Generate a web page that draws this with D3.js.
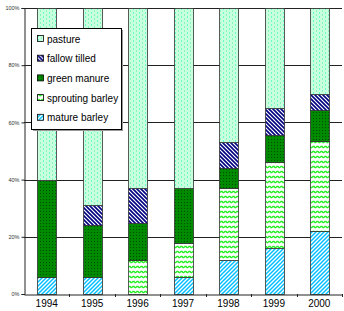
<!DOCTYPE html>
<html>
<head>
<meta charset="utf-8">
<script src="https://cdn.jsdelivr.net/npm/d3@7"></script>
<style>
  body { margin: 0; background: #fff; }
  text { font-family: "Liberation Sans", Arial, sans-serif; }
</style>
</head>
<body>
<div id="chart"></div>
<script>
const years = ["1994", "1995", "1996", "1997", "1998", "1999", "2000"];
const series = ["mature barley", "sprouting barley", "green manure", "fallow tilled", "pasture"];
const matureBarley = [6, 6, 0, 6, 12, 16, 22];
const sproutingBarley = [0, 0, 12, 12, 25, 30, 31.5];
const greenManure = [34, 18, 13, 19, 7, 9.5, 11];
const fallowTilled = [0, 7, 12, 0, 9, 9.5, 5.5];
const pasture = [60, 69, 63, 63, 47, 35, 30];
const yTicks = [0, 20, 40, 60, 80, 100];

const rows = years.map((y, i) => ({
    year: y,
    "mature barley": matureBarley[i],
    "sprouting barley": sproutingBarley[i],
    "green manure": greenManure[i],
    "fallow tilled": fallowTilled[i],
    "pasture": pasture[i]
}));

const width = 344, height = 311;
const margin = { top: 8, right: 2, bottom: 17, left: 24 };

const svg = d3.select("#chart").append("svg")
    .attr("width", width)
    .attr("height", height);

// patterns
const defs = svg.append("defs");

let p = defs.append("pattern").attr("id", "p-pasture")
    .attr("patternUnits", "userSpaceOnUse").attr("width", 6).attr("height", 4);
p.append("rect").attr("width", 6).attr("height", 4).attr("fill", "#c8ffdc");
p.append("rect").attr("x", 1).attr("y", 0).attr("width", 1).attr("height", 2).attr("fill", "#66ffcc");
p.append("rect").attr("x", 4).attr("y", 2).attr("width", 1).attr("height", 2).attr("fill", "#88f5c0");

p = defs.append("pattern").attr("id", "p-fallow")
    .attr("patternUnits", "userSpaceOnUse").attr("width", 4).attr("height", 4);
p.append("rect").attr("width", 4).attr("height", 4).attr("fill", "#fff");
p.append("path").attr("d", "M-1,-1L5,5M-1,3L1,5M3,-1L5,1")
    .attr("stroke", "#000080").attr("stroke-width", 1.6);

p = defs.append("pattern").attr("id", "p-green")
    .attr("patternUnits", "userSpaceOnUse").attr("width", 3).attr("height", 3);
p.append("rect").attr("width", 3).attr("height", 3).attr("fill", "#008a00");
p.append("rect").attr("x", 1).attr("y", 1).attr("width", 1).attr("height", 1).attr("fill", "#004d00");

p = defs.append("pattern").attr("id", "p-sprout")
    .attr("patternUnits", "userSpaceOnUse").attr("width", 4).attr("height", 5);
p.append("rect").attr("width", 4).attr("height", 5).attr("fill", "#fff");
p.append("path").attr("d", "M0,2.5L1,1.5L2,1.5L3,2.5L4,2.5")
    .attr("stroke", "#22ee22").attr("stroke-width", 1.4).attr("fill", "none");

p = defs.append("pattern").attr("id", "p-mature")
    .attr("patternUnits", "userSpaceOnUse").attr("width", 4).attr("height", 4);
p.append("rect").attr("width", 4).attr("height", 4).attr("fill", "#fff");
p.append("path").attr("d", "M-1,5L5,-1M-1,1L1,-1M3,5L5,3")
    .attr("stroke", "#00c0ff").attr("stroke-width", 1.5);

const fills = {
    "mature barley": "url(#p-mature)",
    "sprouting barley": "url(#p-sprout)",
    "green manure": "url(#p-green)",
    "fallow tilled": "url(#p-fallow)",
    "pasture": "url(#p-pasture)"
};

const x = d3.scaleBand()
    .domain(years)
    .range([margin.left, width - margin.right])
    .paddingInner(0.59)
    .paddingOuter(0.295);

const y = d3.scaleLinear()
    .domain([0, 100])
    .range([height - margin.bottom, margin.top]);

// gridlines
svg.append("g")
    .selectAll("line")
    .data(yTicks.slice(1))
    .join("line")
    .attr("x1", margin.left)
    .attr("x2", width - margin.right)
    .attr("y1", d => Math.round(y(d)) + 0.5)
    .attr("y2", d => Math.round(y(d)) + 0.5)
    .attr("stroke", "#222")
    .attr("stroke-width", 1);

// bars
const stack = d3.stack().keys(series)(rows);

svg.append("g")
    .selectAll("g")
    .data(stack)
    .join("g")
    .attr("fill", d => fills[d.key])
    .selectAll("rect")
    .data(d => d.filter(s => s[1] - s[0] > 0))
    .join("rect")
    .attr("x", d => Math.round(x(d.data.year)) + 0.5)
    .attr("y", d => Math.round(y(d[1])) + 0.5)
    .attr("width", Math.round(x.bandwidth()))
    .attr("height", d => Math.round(y(d[0])) - Math.round(y(d[1])))
    .attr("stroke", "#333")
    .attr("stroke-width", 0.8);

// y axis
const yAxis = d3.axisLeft(y)
    .tickValues(yTicks)
    .tickFormat(d => d + "%")
    .tickSize(3)
    .tickPadding(2);

svg.append("g")
    .attr("transform", `translate(${margin.left + 0.5},0)`)
    .call(yAxis)
    .call(g => g.select(".domain").attr("stroke", "#222"))
    .call(g => g.selectAll(".tick line").attr("stroke", "#222"))
    .call(g => g.selectAll(".tick text")
        .attr("font-size", 5.5)
        .attr("fill", "#333"));

// x axis
const xAxis = d3.axisBottom(x).tickSize(0).tickPadding(5);

svg.append("g")
    .attr("transform", `translate(0,${Math.round(y(0)) + 0.5})`)
    .call(xAxis)
    .call(g => g.select(".domain").attr("stroke", "#222"))
    .call(g => g.selectAll(".tick text")
        .attr("font-size", 10)
        .attr("fill", "#000"));

// boundary tick marks between categories
svg.append("g")
    .selectAll("line")
    .data(years)
    .join("line")
    .attr("x1", d => Math.round(x(d) + x.bandwidth() + x.step() * x.paddingInner() / 2) + 0.5)
    .attr("x2", d => Math.round(x(d) + x.bandwidth() + x.step() * x.paddingInner() / 2) + 0.5)
    .attr("y1", Math.round(y(0)))
    .attr("y2", Math.round(y(0)) + 3)
    .attr("stroke", "#222");

// legend
const legendItems = series.slice().reverse();
const lg = svg.append("g").attr("transform", "translate(31,28)");
lg.append("rect")
    .attr("x", 2).attr("y", 2)
    .attr("width", 90).attr("height", 101)
    .attr("fill", "#999");
lg.append("rect")
    .attr("x", 0.5).attr("y", 0.5)
    .attr("width", 90).attr("height", 101)
    .attr("fill", "#fff")
    .attr("stroke", "#000");

const li = lg.selectAll("g.item")
    .data(legendItems)
    .join("g")
    .attr("class", "item")
    .attr("transform", (d, i) => `translate(6,${11 + i * 19.7})`);
li.append("rect")
    .attr("x", 0.5).attr("y", -3.5)
    .attr("width", 6).attr("height", 6)
    .attr("fill", d => fills[d])
    .attr("stroke", "#000")
    .attr("stroke-width", 0.8);
li.append("text")
    .attr("x", 10)
    .attr("y", 0)
    .attr("dy", "0.35em")
    .attr("font-size", 10)
    .text(d => d);
</script>
</body>
</html>
